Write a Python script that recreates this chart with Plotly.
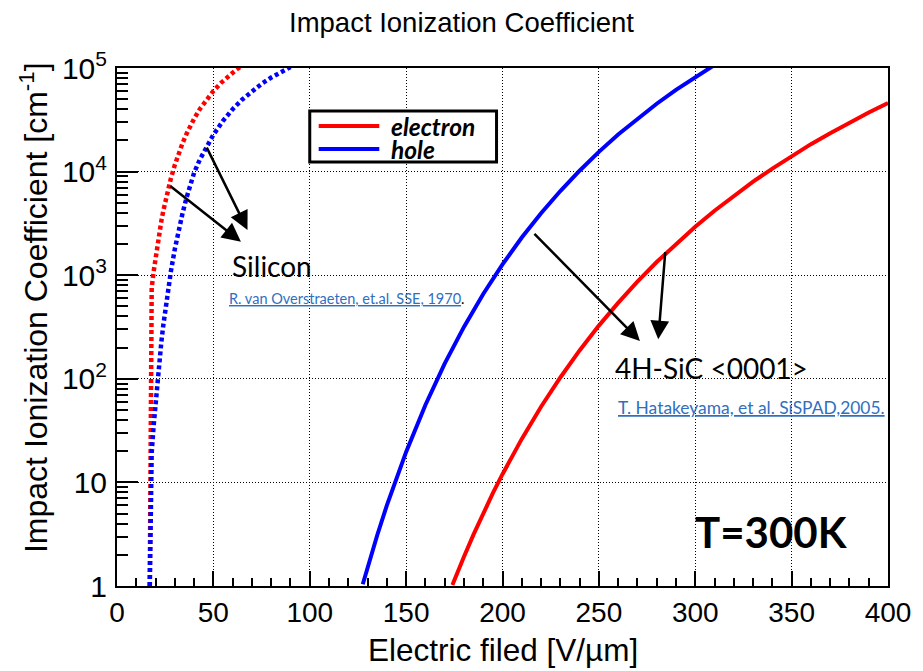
import plotly.graph_objects as go

# Electric field [V/um] and impact ionization coefficient [1/cm]
si_e_field = [17.0, 17.2, 17.5, 18, 19, 20, 21, 22, 23, 24, 25, 26, 28, 30, 32, 34, 36, 38,
              40, 43, 46, 50, 54, 58, 62, 66]
si_e_alpha = [1, 10, 100, 753, 1080, 1490, 2000, 2610, 3330, 4170, 5120, 6180, 8670, 11600,
              15000, 18800, 23000, 27500, 32400, 40200, 48400, 60000, 72000, 84200, 96600, 109000]

si_h_field = [17.0, 17.5, 18, 19, 20, 21, 22, 23, 24, 25, 26, 27, 28, 30, 32, 34, 36, 38, 40,
              43, 46, 50, 55, 60, 65, 70, 75, 80, 85, 90]
si_h_alpha = [1, 5, 19.4, 35, 60, 97, 151, 226, 327, 459, 628, 839, 1100, 1790, 2730, 3960,
              5530, 7450, 9740, 13100, 16900, 22700, 30900, 40000, 49700, 59800, 70300, 80900,
              91600, 102000]

sic_e_field = [174, 176, 178, 180, 185, 190, 195, 200, 210, 220, 230, 240, 250, 260, 270, 280,
               290, 300, 310, 320, 330, 340, 350, 360, 370, 380, 390, 400]
sic_e_alpha = [1.02, 1.27, 1.56, 1.92, 3.15, 5.04, 7.87, 12.0, 26.3, 53.8, 103, 188, 326, 541,
               866, 1340, 2010, 2940, 4190, 5850, 7990, 10700, 14100, 18400, 23500, 29800,
               37200, 46000]

sic_h_field = [127.5, 130, 135, 140, 145, 150, 160, 170, 180, 190, 200, 210, 220, 230, 240,
               250, 260, 270, 280, 290, 300, 310]
sic_h_alpha = [1.04, 1.52, 3.09, 6.0, 11.1, 19.7, 55.9, 140, 317, 659, 1270, 2310, 3960, 6490,
               10200, 15500, 22800, 32500, 45200, 61500, 82000, 107000]

y_tick_vals = [1, 10, 100, 1000, 10000, 100000]
y_tick_text = ["1", "10", "10<sup>2</sup>", "10<sup>3</sup>", "10<sup>4</sup>", "10<sup>5</sup>"]
x_tick_vals = [0, 50, 100, 150, 200, 250, 300, 350, 400]

RED = "#ff0000"
BLUE = "#0000ff"
LINK = "#2f6fc0"
HELV = "Liberation Sans, Arial, Helvetica, sans-serif"
CAL = "Lato, Open Sans, sans-serif"

W, H = 923, 671
L, R, T, B = 117, 30, 68, 85
PW, PH = W - L - R, H - T - B


def px(xp):
    return (xp - L) / PW


def py(yp):
    return (H - B - yp) / PH


fig = go.Figure()

dots = "4px,3px"
fig.add_trace(go.Scatter(x=si_e_field, y=si_e_alpha, mode="lines", name="Si electron",
                         line=dict(color=RED, width=4.5, dash=dots)))
fig.add_trace(go.Scatter(x=si_h_field, y=si_h_alpha, mode="lines", name="Si hole",
                         line=dict(color=BLUE, width=4.5, dash=dots)))
fig.add_trace(go.Scatter(x=sic_h_field, y=sic_h_alpha, mode="lines", name="4H-SiC hole",
                         line=dict(color=BLUE, width=4)))
fig.add_trace(go.Scatter(x=sic_e_field, y=sic_e_alpha, mode="lines", name="4H-SiC electron",
                         line=dict(color=RED, width=4)))

minor_y = [m * 10 ** d for d in range(5) for m in range(2, 10)]

fig.update_xaxes(
    range=[0, 400], tickvals=x_tick_vals, ticks="inside", ticklen=15, tickwidth=1.5,
    tickcolor="black", showline=True, mirror=True, linecolor="black", linewidth=2,
    showgrid=True, gridcolor="black", gridwidth=1, griddash="1px,2px", zeroline=False,
    tickfont=dict(family=HELV, size=28, color="black"),
    minor=dict(dtick=10, tick0=0, ticks="inside", ticklen=8, tickwidth=1.5, tickcolor="black",
               showgrid=False),
)
fig.update_yaxes(
    type="log", range=[0, 5], tickvals=y_tick_vals, ticktext=y_tick_text, ticks="inside",
    ticklen=21, tickwidth=1.5, tickcolor="black", showline=True, mirror=True,
    linecolor="black", linewidth=2, showgrid=True, gridcolor="black", gridwidth=1,
    griddash="1px,2px", zeroline=False, ticklabelstandoff=2,
    tickfont=dict(family=HELV, size=30, color="black"),
    minor=dict(tickvals=minor_y, ticks="inside", ticklen=11, tickwidth=1.5, tickcolor="black",
               showgrid=False),
)

annotations = []
shapes = []

# axis titles
annotations.append(dict(xref="paper", yref="paper", x=0.5, y=py(650), xanchor="center",
                        yanchor="middle", showarrow=False, text="Electric filed [V/\u00b5m]",
                        font=dict(family=HELV, size=31.5, color="black")))
annotations.append(dict(xref="paper", yref="paper", x=px(33), y=py(60), xanchor="center",
                        yanchor="top", textangle=-90, showarrow=False,
                        text="Impact Ionization Coefficient [cm<sup>-1</sup>]",
                        font=dict(family=HELV, size=32, color="black")))

# legend box
shapes.append(dict(type="rect", xref="paper", yref="paper", x0=px(311), x1=px(499),
                   y0=py(162), y1=py(111), fillcolor="white", line=dict(color="black", width=3),
                   layer="above"))
for yy, col, label in [(126, RED, "electron"), (149, BLUE, "hole")]:
    shapes.append(dict(type="line", xref="paper", yref="paper", x0=px(320), x1=px(381),
                       y0=py(yy), y1=py(yy), line=dict(color=col, width=4), layer="above"))
    annotations.append(dict(xref="paper", yref="paper", x=px(391), y=py(yy), xanchor="left",
                            yanchor="middle", showarrow=False, text="<b><i>%s</i></b>" % label,
                            font=dict(family=CAL, size=24.5, color="black")))

# arrows (tail -> head), y in log10 units
arrows = [
    ((27.0, 3.87), (64.3, 3.323)),
    ((46.2, 4.246), (67.7, 3.436)),
    ((215.8, 3.414), (271.3, 2.365)),
    ((284.5, 3.237), (280.8, 2.381)),
]
for (tx, ty), (hx, hy) in arrows:
    annotations.append(dict(x=hx, y=hy, ax=tx, ay=ty, xref="x", yref="y", axref="x", ayref="y",
                            text="", showarrow=True, arrowhead=2, arrowsize=1.5, arrowwidth=2.5,
                            arrowcolor="black", standoff=0, startstandoff=0))

# text labels
annotations.append(dict(xref="paper", yref="paper", x=px(231), y=py(266), xanchor="left",
                        yanchor="middle", showarrow=False, text="Silicon",
                        font=dict(family=CAL, size=28, color="black")))
annotations.append(dict(xref="paper", yref="paper", x=px(228), y=py(298), xanchor="left",
                        yanchor="middle", showarrow=False,
                        text="<span style='color:%s'><u>R. van Overstraeten, et.al. SSE, 1970</u></span>." % LINK,
                        font=dict(family=CAL, size=14.5, color="black")))
annotations.append(dict(xref="paper", yref="paper", x=px(616), y=py(368), xanchor="left",
                        yanchor="middle", showarrow=False, text="4H-SiC &lt;0001&gt;",
                        font=dict(family=CAL, size=28, color="black")))
annotations.append(dict(xref="paper", yref="paper", x=px(619), y=py(407), xanchor="left",
                        yanchor="middle", showarrow=False,
                        text="<u>T. Hatakeyama, et al. SiSPAD,2005.</u>",
                        font=dict(family=CAL, size=17.4, color=LINK)))
annotations.append(dict(xref="paper", yref="paper", x=px(697), y=py(532), xanchor="left",
                        yanchor="middle", showarrow=False, text="<b>T=300K</b>",
                        font=dict(family=CAL, size=42, color="black")))

fig.update_layout(
    width=W, height=H, margin=dict(l=L, r=R, t=T, b=B),
    paper_bgcolor="white", plot_bgcolor="white", showlegend=False,
    title=dict(text="Impact Ionization Coefficient", x=0.5, xanchor="center", y=1 - 22 / H,
               yanchor="middle", font=dict(family=HELV, size=27.5, color="black")),
    annotations=annotations, shapes=shapes,
)

fig.write_html("out.html")
